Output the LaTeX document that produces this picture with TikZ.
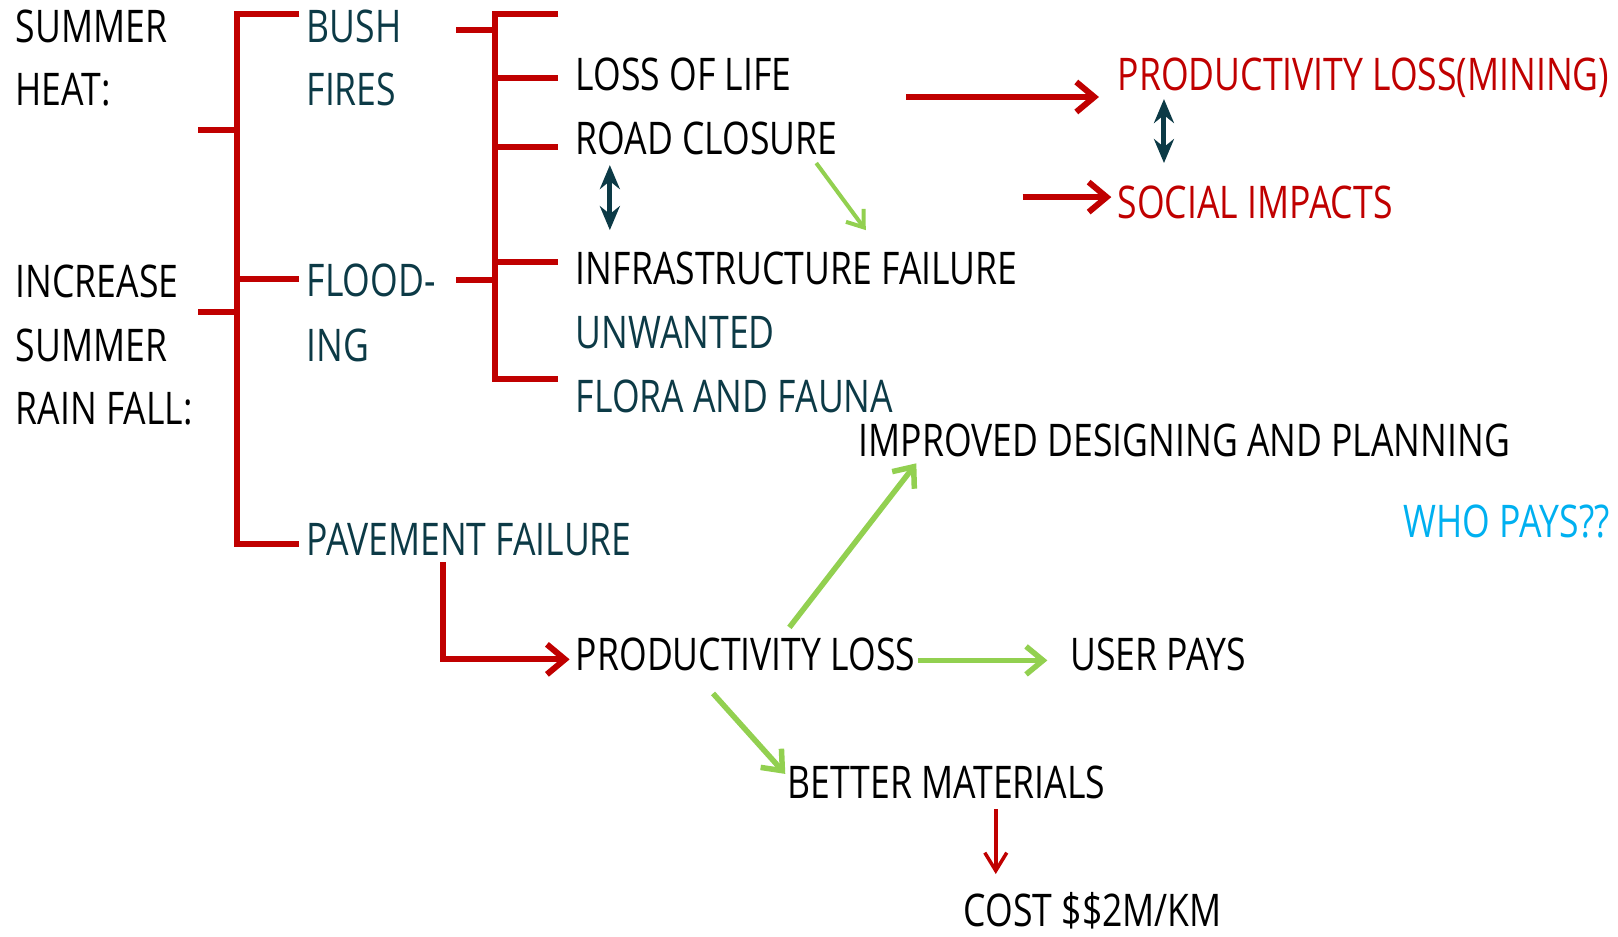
\documentclass[tikz,border=0pt]{standalone}
\usepackage{fontspec}
\setmainfont{Open Sans}[FakeStretch=0.79]
\usetikzlibrary{arrows.meta}
\definecolor{brred}{RGB}{192,0,0}
\definecolor{dteal}{RGB}{12,58,70}
\definecolor{lgreen}{RGB}{146,208,80}
\definecolor{wcyan}{RGB}{0,176,240}
\begin{document}
\begin{tikzpicture}[x=1.032pt,y=-1.032pt,
  lbl/.style={anchor=base west, inner sep=0pt, font=\fontsize{45}{54}\selectfont},
  blk/.style={lbl, text=black},
  tl/.style={lbl, text=dteal},
  rd/.style={lbl, text=brred},
  bracket/.style={draw=brred, line width=6pt, line join=miter},
  redarr/.style={draw=brred, line width=6pt, line join=miter, -{Straight Barb[length=18pt,width=30pt]}},
  grnarr/.style={draw=lgreen, line width=5.5pt, -{Straight Barb[length=17pt,width=28pt]}},
  grnthin/.style={draw=lgreen, line width=4pt, -{Straight Barb[length=15pt,width=22pt]}},
  dblarr/.style={draw=dteal, line width=5pt, {Stealth[length=24pt,width=20pt,inset=8pt]}-{Stealth[length=24pt,width=20pt,inset=8pt]}},
  redthin/.style={draw=brred, line width=3.5pt, -{Straight Barb[length=18pt,width=22pt]}}
]
\useasboundingbox (0,0) rectangle (1568,908);

% left column
\node[blk] (summer1) at (15,41) {SUMMER};
\node[blk] (heat) at (15,102) {HEAT:};
\node[blk] (increase) at (15,288) {INCREASE};
\node[blk] (summer2) at (15,350) {SUMMER};
\node[blk] (rainfall) at (15,411) {RAIN FALL:};

% second column
\node[tl] (bush) at (297,41) {BUSH};
\node[tl] (fires) at (297,102) {FIRES};
\node[tl] (flood) at (297,287) {FLOOD-};
\node[tl] (ing) at (297,350) {ING};
\node[tl] (pavement) at (297,538) {PAVEMENT FAILURE};

% third column
\node[blk] (lossoflife) at (558,88) {LOSS OF LIFE};
\node[blk] (roadclosure) at (558,150) {ROAD CLOSURE};
\node[blk] (infra) at (558,276) {INFRASTRUCTURE FAILURE};
\node[tl] (unwanted) at (558,338) {UNWANTED};
\node[tl] (flora) at (558,400) {FLORA AND FAUNA};

% right
\node[rd] (mining) at (1083,88) {PRODUCTIVITY LOSS(MINING)};
\node[rd] (social) at (1083,212) {SOCIAL IMPACTS};
\node[blk] (improved) at (832,442) {IMPROVED DESIGNING AND PLANNING};
\node[lbl, text=wcyan] (whopays) at (1360,521) {WHO PAYS??};
\node[blk] (prodloss) at (558,650) {PRODUCTIVITY LOSS};
\node[blk] (userpays) at (1037,650) {USER PAYS};
\node[blk] (better) at (763,774) {BETTER MATERIALS};
\node[blk] (cost) at (934,898) {COST \$\$2M/KM};

% left bracket
\coordinate (lbt) at (230,14);
\coordinate (lbb) at (230,527);
\coordinate (lbtick1) at (290,14);
\coordinate (lbtick3) at (290,527);
\coordinate (lbm) at (230,270);
\coordinate (lbtick2) at (290,270);
\coordinate (lbs1a) at (192,126);
\coordinate (lbs1b) at (230,126);
\coordinate (lbs2a) at (192,302);
\coordinate (lbs2b) at (230,302);
\draw[bracket] (lbtick1) -- (lbt) -- (lbb) -- (lbtick3);
\draw[bracket] (lbm) -- (lbtick2);
\draw[bracket] (lbs1a) -- (lbs1b);
\draw[bracket] (lbs2a) -- (lbs2b);

% right bracket
\coordinate (rbt) at (480,14);
\coordinate (rbb) at (480,367);
\coordinate (rt1) at (541,14);
\coordinate (rt5) at (541,367);
\draw[bracket] (rt1) -- (rbt) -- (rbb) -- (rt5);
\foreach \yy/\nm in {76/a,142/b,254/c}{
  \coordinate (rbx\nm) at (480,\yy);
  \coordinate (rtx\nm) at (541,\yy);
  \draw[bracket] (rbx\nm) -- (rtx\nm);
}
\coordinate (rs1a) at (442,29);
\coordinate (rs1b) at (480,29);
\coordinate (rs2a) at (442,271);
\coordinate (rs2b) at (480,271);
\draw[bracket] (rs1a) -- (rs1b);
\draw[bracket] (rs2a) -- (rs2b);

% arrows
\coordinate (a1s) at (878,94);
\coordinate (a1e) at (1065,94);
\draw[redarr] (a1s) -- (a1e);
\coordinate (a2s) at (991,191);
\coordinate (a2e) at (1077,191);
\draw[redarr] (a2s) -- (a2e);
\coordinate (d1s) at (1128,96);
\coordinate (d1e) at (1128,158);
\draw[dblarr] (d1s) -- (d1e);
\coordinate (d2s) at (591,160);
\coordinate (d2e) at (591,223);
\draw[dblarr] (d2s) -- (d2e);
\coordinate (g1s) at (791,158);
\coordinate (g1e) at (839,223);
\draw[grnthin] (g1s) -- (g1e);
\coordinate (p1) at (429,545);
\coordinate (p2) at (429,639);
\coordinate (p3) at (552,639);
\draw[redarr] (p1) -- (p2) -- (p3);
\coordinate (g2s) at (765,608);
\coordinate (g2e) at (888,449);
\draw[grnarr] (g2s) -- (g2e);
\coordinate (g3s) at (890,640);
\coordinate (g3e) at (1015,640);
\draw[grnarr] (g3s) -- (g3e);
\coordinate (g4s) at (691,672);
\coordinate (g4e) at (761,750);
\draw[grnarr] (g4s) -- (g4e);
\coordinate (r3s) at (965,784);
\coordinate (r3e) at (965,847);
\draw[redthin] (r3s) -- (r3e);
\end{tikzpicture}
\end{document}
